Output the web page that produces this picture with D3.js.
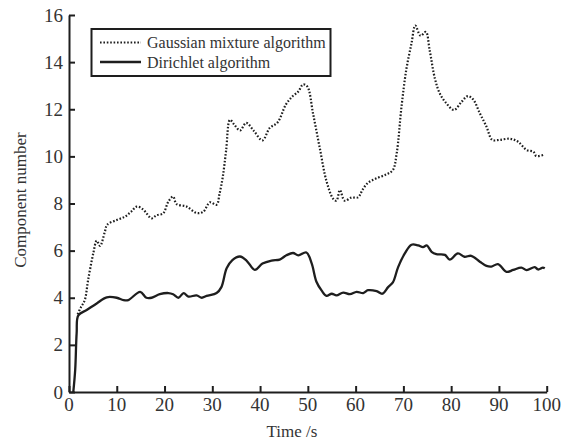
<!DOCTYPE html>
<html>
<head>
<meta charset="utf-8">
<script src="https://cdn.jsdelivr.net/npm/d3@7/dist/d3.min.js"></script>
</head>
<body style="margin:0">
<svg id="chart" width="563" height="441"></svg>
<script>
// Number of mixture components estimated over time by two algorithms
const gaussTime = [1.8, 2.5, 3.3, 4.0, 5.1, 5.8, 6.5, 7.5, 8.0, 10, 11.7, 13, 14.2, 15.5, 17.3, 18.3, 19.7, 20.8, 21.8, 22.5, 24.6, 26.7, 28.1, 29.5, 30.9, 31.5, 32.2, 32.9, 33.7, 34.6, 35.8, 37.1, 38.7, 40.5, 42, 43.7, 45.4, 46.8, 48, 49, 49.9, 51.1, 52.5, 53.9, 55.3, 56, 56.7, 57.7, 59.1, 60.5, 61.5, 62.6, 64.4, 66.5, 67.8, 68.6, 69.6, 70.6, 71.7, 72.5, 73.6, 74.7, 75.5, 76.6, 77.6, 79, 80.6, 82.2, 83.5, 84.6, 86, 87.4, 88.6, 90.2, 92.3, 94, 95.8, 97.2, 97.8, 99.6];
const gaussCount = [3.3, 3.6, 3.9, 4.75, 5.9, 6.42, 6.2, 6.8, 7.1, 7.3, 7.44, 7.65, 7.87, 7.75, 7.37, 7.5, 7.58, 8.08, 8.29, 7.98, 7.87, 7.6, 7.65, 8.05, 7.95, 8.4, 9.14, 10.27, 11.55, 11.35, 11.1, 11.42, 11.08, 10.68, 11.2, 11.45, 12.2, 12.55, 12.75, 13.05, 12.96, 11.8, 10.35, 8.95, 8.2, 8.12, 8.57, 8.12, 8.25, 8.26, 8.6, 8.88, 9.07, 9.24, 9.42, 10.13, 12.1, 13.67, 14.8, 15.55, 15.12, 15.28, 14.5, 13.3, 12.68, 12.25, 11.97, 12.32, 12.56, 12.42, 11.83, 11.26, 10.7, 10.7, 10.75, 10.62, 10.27, 10.2, 10.02, 10.08];

const dirichletTime = [0.9, 1.3, 1.6, 1.95, 3.7, 5.8, 7.9, 10, 11.4, 12.4, 14.9, 16.2, 17.3, 19, 20.8, 21.8, 22.9, 24, 25, 26.7, 27.8, 28.8, 30.9, 31.9, 33, 34.2, 35.8, 37.2, 38.9, 40.5, 42.4, 44.1, 45.5, 46.9, 48, 49.7, 50.8, 51.8, 52.9, 53.9, 55, 56, 57.4, 58.8, 60.2, 61.6, 62.6, 64.4, 65.6, 66.8, 67.8, 68.9, 70.3, 71.7, 73.1, 74.1, 74.9, 75.9, 76.9, 78.7, 79.7, 81.4, 82.8, 84.2, 86, 87.4, 88.4, 89.8, 91.6, 93, 94.7, 95.8, 97.5, 98.2, 99.2, 99.6];
const dirichletCount = [0, 0.95, 2.5, 3.25, 3.48, 3.76, 4.02, 4.0, 3.9, 3.9, 4.25, 4.0, 4.0, 4.15, 4.2, 4.15, 4.0, 4.2, 4.05, 4.1, 4.0, 4.08, 4.2, 4.45, 5.25, 5.6, 5.75, 5.57, 5.18, 5.45, 5.58, 5.62, 5.8, 5.9, 5.8, 5.92, 5.46, 4.68, 4.3, 4.08, 4.17, 4.1, 4.22, 4.15, 4.25, 4.2, 4.32, 4.28, 4.17, 4.45, 4.65, 5.3, 5.88, 6.25, 6.22, 6.15, 6.22, 5.95, 5.85, 5.82, 5.62, 5.88, 5.74, 5.78, 5.53, 5.35, 5.32, 5.43, 5.1, 5.18, 5.28, 5.17, 5.3, 5.2, 5.28, 5.25];

const xTicks = [0, 10, 20, 30, 40, 50, 60, 70, 80, 90, 100];
const yTicks = [0, 2, 4, 6, 8, 10, 12, 14, 16];
const seriesNames = ["Gaussian mixture algorithm", "Dirichlet algorithm"];

const svg = d3.select("#chart");
const ink = "#1e1e1e";
const textInk = "#333";
const serif = '"Liberation Serif"';

const x = d3.scaleLinear().domain([0, 100]).range([69, 546.7]);
const y = d3.scaleLinear().domain([0, 16]).range([392, 15]);

// Axis lines and inward ticks (labels are placed separately below)
const xAxis = svg.append("g")
  .attr("transform", `translate(0,${y(0)})`)
  .call(d3.axisBottom(x).tickValues(xTicks).tickSizeInner(-6).tickSizeOuter(0).tickFormat(""));
const yAxis = svg.append("g")
  .attr("transform", `translate(${x(0)},0)`)
  .call(d3.axisLeft(y).tickValues(yTicks).tickSizeInner(-6).tickSizeOuter(0).tickFormat(""));

[xAxis, yAxis].forEach(g => {
  g.select(".domain").attr("stroke", ink).attr("stroke-width", 2);
  g.selectAll(".tick line").attr("stroke", ink).attr("stroke-width", 2);
  g.selectAll(".tick text").remove();
});

// Tick labels
svg.append("g").selectAll("text")
  .data(xTicks)
  .join("text")
  .attr("x", d => x(d))
  .attr("y", 410.5)
  .attr("text-anchor", "middle")
  .attr("fill", textInk)
  .attr("font-size", 19)
  .style("font-family", serif)
  .text(d => d);

svg.append("g").selectAll("text")
  .data(yTicks)
  .join("text")
  .attr("x", 63)
  .attr("y", d => y(d) + 6.5)
  .attr("text-anchor", "end")
  .attr("fill", textInk)
  .attr("font-size", 19)
  .style("font-family", serif)
  .text(d => d);

// Axis titles
svg.append("text")
  .attr("x", 292).attr("y", 437)
  .attr("text-anchor", "middle")
  .attr("fill", textInk)
  .attr("font-size", 17)
  .style("font-family", serif)
  .text("Time /s");
svg.append("text")
  .attr("transform", "translate(26,200) rotate(-90)")
  .attr("text-anchor", "middle")
  .attr("fill", textInk)
  .attr("font-size", 17)
  .style("font-family", serif)
  .text("Component number");

// Series lines
const line = d3.line()
  .x(d => x(d[0]))
  .y(d => y(d[1]))
  .curve(d3.curveCatmullRom.alpha(0.5));

svg.append("path")
  .datum(gaussTime.map((t, i) => [t, gaussCount[i]]))
  .attr("d", line)
  .attr("fill", "none")
  .attr("stroke", ink)
  .attr("stroke-width", 2.2)
  .attr("stroke-dasharray", "1.6,1.8");

svg.append("path")
  .datum(dirichletTime.map((t, i) => [t, dirichletCount[i]]))
  .attr("d", line)
  .attr("fill", "none")
  .attr("stroke", ink)
  .attr("stroke-width", 2.3)
  .attr("stroke-linejoin", "round");

// Legend
const legend = svg.append("g");
legend.append("rect")
  .attr("x", 91.5).attr("y", 29)
  .attr("width", 239).attr("height", 47)
  .attr("fill", "#fff")
  .attr("stroke", ink)
  .attr("stroke-width", 2);

const dashes = ["1.6,1.8", null];
seriesNames.forEach((name, i) => {
  const ly = 42.5 + i * 19.5;
  legend.append("line")
    .attr("x1", 100).attr("x2", 141)
    .attr("y1", ly).attr("y2", ly)
    .attr("stroke", ink)
    .attr("stroke-width", i === 0 ? 2.2 : 2.3)
    .attr("stroke-dasharray", dashes[i]);
  legend.append("text")
    .attr("x", 147).attr("y", ly + 5.5)
    .attr("fill", textInk)
    .attr("font-size", 16)
    .style("font-family", serif)
    .text(name);
});
</script>
</body>
</html>
